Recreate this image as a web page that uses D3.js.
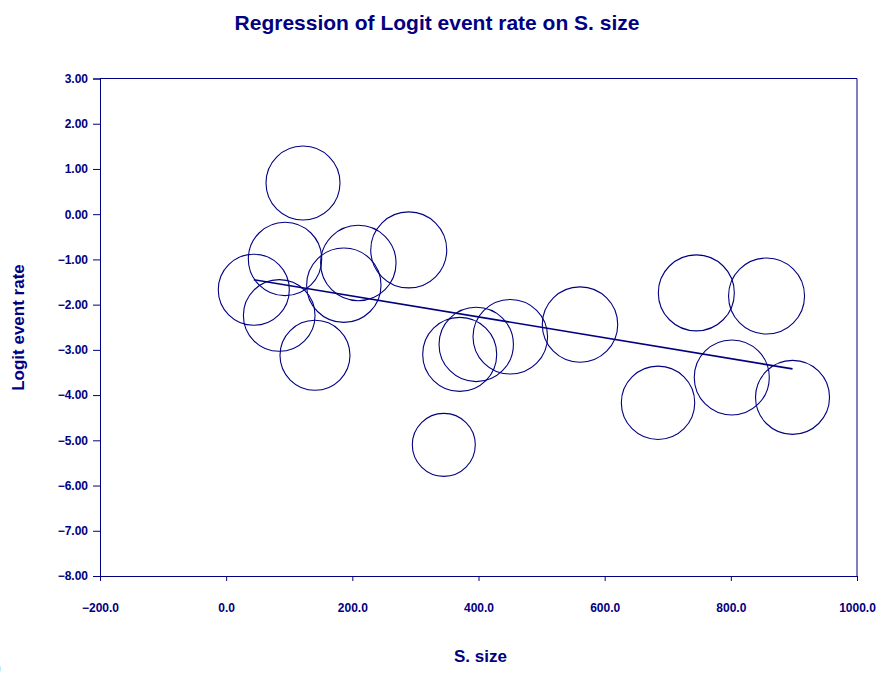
<!DOCTYPE html>
<html>
<head>
<meta charset="utf-8">
<script src="https://cdn.jsdelivr.net/npm/d3@7/dist/d3.min.js"></script>
<style>
  html, body { margin: 0; padding: 0; background: #fff; }
  svg { display: block; }
  text { font-family: "Liberation Sans", Arial, sans-serif; font-weight: bold; fill: #000080; }
</style>
</head>
<body>
<svg id="chart" width="882" height="683"></svg>
<script>
// Study-level data: sample size, logit event rate, relative weight (%)
const sampleSize = [121.8, 43.8, 93.3, 84.1, 140.8, 186.5, 209.5, 289.4, 345.0,
                    370.2, 396.4, 450.4, 560.9, 684.6, 745.3, 801.5, 856.6, 897.8];
const logitRate  = [0.69, -1.67, -0.99, -2.24, -3.12, -1.57, -1.08, -0.79, -5.10,
                    -3.10, -2.88, -2.71, -2.44, -4.17, -1.74, -3.61, -1.81, -4.05];
const weights    = [5.63, 5.19, 5.54, 5.28, 5.04, 5.69, 5.85, 5.94, 4.08,
                    5.63, 5.69, 5.72, 5.85, 5.54, 5.94, 5.79, 5.94, 5.63];

// Meta-regression fit: logit = intercept + slope * size
const intercept = -1.349;
const slope = -0.002307;

const xTicks = [-200, 0, 200, 400, 600, 800, 1000];
const yTicks = [3, 2, 1, 0, -1, -2, -3, -4, -5, -6, -7, -8];

const navy = "#000080";
const svg = d3.select("#chart");

const x = d3.scaleLinear().domain([-200, 1000]).range([100, 857]);
const y = d3.scaleLinear().domain([-8, 3]).range([576, 78.5]);
const r = d3.scaleSqrt().domain([0, d3.max(weights)]).range([0, 38]);

// Plot frame (top and right edges)
svg.append("path")
  .attr("d", `M${x(-200)},${y(3)}H${x(1000)}V${y(-8)}`)
  .attr("fill", "none").attr("stroke", navy).attr("stroke-width", 1);

// Y axis
const yAxis = svg.append("g")
  .attr("transform", `translate(${x(-200)},0)`)
  .call(d3.axisLeft(y).tickValues(yTicks).tickFormat(d3.format(".2f")).tickSize(7).tickPadding(5));
// X axis
const xAxis = svg.append("g")
  .attr("transform", `translate(0,${y(-8)})`)
  .call(d3.axisBottom(x).tickValues(xTicks).tickFormat(d3.format(".1f")).tickSize(5).tickPadding(22));

[yAxis, xAxis].forEach(g => {
  g.attr("font-size", null);
  g.select(".domain").attr("stroke", navy);
  g.selectAll(".tick line").attr("stroke", navy);
  g.selectAll(".tick text")
    .attr("fill", navy)
    .style("font-family", '"Liberation Sans", Arial, sans-serif')
    .style("font-weight", "bold")
    .style("font-size", "12px");
});

// Study bubbles, sized by weight
const pts = sampleSize.map((s, i) => ({ s, v: logitRate[i], w: weights[i] }));
svg.append("g").selectAll("circle")
  .data(pts)
  .join("circle")
  .attr("cx", d => x(d.s))
  .attr("cy", d => y(d.v))
  .attr("r", d => r(d.w))
  .attr("fill", "none")
  .attr("stroke", navy)
  .attr("stroke-width", 1.1);

// Regression line across the observed range
const xr = d3.extent(sampleSize);
svg.append("line")
  .attr("x1", x(xr[0])).attr("y1", y(intercept + slope * xr[0]))
  .attr("x2", x(xr[1])).attr("y2", y(intercept + slope * xr[1]))
  .attr("stroke", navy).attr("stroke-width", 1.6);

// Titles
svg.append("text")
  .attr("x", 437).attr("y", 30)
  .attr("text-anchor", "middle")
  .style("font-size", "21px")
  .text("Regression of Logit event rate on S. size");

svg.append("text")
  .attr("x", 480.5).attr("y", 662)
  .attr("text-anchor", "middle")
  .style("font-size", "17px")
  .text("S. size");

svg.append("text")
  .attr("transform", "translate(24,327.5) rotate(-90)")
  .attr("text-anchor", "middle")
  .style("font-size", "17px")
  .text("Logit event rate");

svg.append("text")
  .attr("x", -4).attr("y", 673)
  .style("font-size", "14px")
  .text(")");
</script>
</body>
</html>
